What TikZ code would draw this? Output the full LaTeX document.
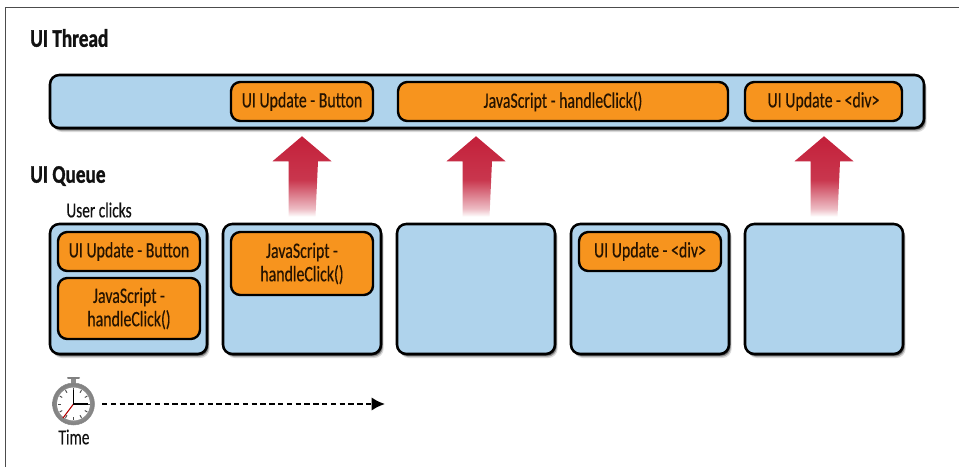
\documentclass[tikz,border=0pt]{standalone}
\usepackage{fontspec}
\setmainfont{Carlito}[FakeStretch=0.72,FakeBold=0.35,BoldFeatures={FakeStretch=0.76,FakeBold=1.2}]
\usetikzlibrary{shadows,calc,arrows.meta}
\definecolor{paneblue}{HTML}{AFD3EC}
\definecolor{taskorange}{HTML}{F7941E}
\definecolor{inkdark}{HTML}{111111}
\definecolor{arrowred}{HTML}{C3203A}
\pgfdeclareverticalshading{uparrowfade}{100bp}{color(0bp)=(white); color(25bp)=(white); color(30bp)=(arrowred!30!white); color(48bp)=(arrowred!90!white); color(75bp)=(arrowred); color(100bp)=(arrowred)}
\tikzset{
  x=0.75pt,y=-0.75pt,
  softshadow/.style={drop shadow={shadow xshift=2pt,shadow yshift=-3pt,fill=black,opacity=.15},drop shadow={shadow xshift=1.4pt,shadow yshift=-2pt,fill=black,opacity=.3},drop shadow={shadow xshift=.8pt,shadow yshift=-1.2pt,fill=black,opacity=.5}},
  pane/.style={draw=black,fill=paneblue,line width=1.9pt,rounded corners=7pt,softshadow,inner sep=0pt},
  task/.style={draw=black,fill=taskorange,line width=1.8pt,rounded corners=7pt,inner sep=0pt,align=center,font=\fontsize{16.5}{17.5}\selectfont,text=black!85!orange},
  heading/.style={anchor=west,inner sep=0pt,font=\fontsize{19}{20}\selectfont\bfseries,text=inkdark},
  note/.style={inner sep=0pt,font=\fontsize{16}{18}\selectfont,text=inkdark},
  flow/.style={shading=uparrowfade,draw=none},
  timeline/.style={line width=1.6pt,dash pattern=on 4pt off 2.6pt,-{Latex[length=10pt,width=10pt]},draw=black},
}
\newcommand{\boxat}[7]{\node[#6,minimum width={(#4-#2)*0.75pt},minimum height={(#5-#3)*0.75pt}] (#1) at ({(#2+#4)/2},{(#3+#5)/2}) {#7};}
\newcommand{\bigup}[2]{%
  \path[flow] let \p1=(#1.north), \p2=($(#1.north |- #2.south)+(0,7)$) in
    (\x2,\y2) -- ++(29.5,25) -- ++(-13.5,0) -- (\x1+10.1pt,\y1+4.5pt) -- (\x1-10.1pt,\y1+4.5pt) -- (\x1-10.1pt,\y2-18.75pt) -- ++(-16,0) -- cycle;}
\begin{document}
\begin{tikzpicture}
\useasboundingbox (0,0) rectangle (959,467);
\fill[white] (0,0) rectangle (959,467);
\draw[black!70,line width=0.9pt] (5.5,467) -- (5.5,7.5) -- (959,7.5);

\node[heading] (thr) at (30,38) {UI Thread};
\node[heading] (que) at (30,176) {UI Queue};
\node[note] (clk) at (99,210) {User clicks};

\boxat{thread}{50}{75}{924}{128}{pane}{}
\boxat{qa}{50}{224}{207}{354}{pane}{}
\boxat{qb}{223}{224}{381}{354}{pane}{}
\boxat{qc}{397}{224}{555}{354}{pane}{}
\boxat{qd}{571}{224}{729}{354}{pane}{}
\boxat{qe}{745}{224}{903}{354}{pane}{}

\boxat{ta}{231}{82}{373}{121}{task}{UI Update - Button}
\boxat{tb}{398}{82}{728}{121}{task}{JavaScript - handleClick()}
\boxat{tc}{745}{82}{902}{121}{task}{UI Update - <div>}

\boxat{a1}{58}{232}{200}{271}{task}{UI Update - Button}
\boxat{a2}{58}{278}{200}{339}{task}{JavaScript -\\handleClick()}
\boxat{b1}{231}{232}{373}{295}{task}{JavaScript -\\handleClick()}
\boxat{d1}{579}{232}{721}{271}{task}{UI Update - <div>}

\bigup{qb}{thread}
\bigup{qc}{thread}
\bigup{qe}{thread}

% stopwatch
\fill[black!45] (70.5,378) rectangle (76,386);
\draw[black!50,line width=1.5pt,line cap=round] (68,377.5) -- (79,377.5);
\node[circle,minimum size=31.5pt,inner sep=0pt,shade,inner color=black!25,outer color=black!50,draw=black!45] (watch) at (73.5,404) {};
\fill[white] (watch.center) circle (16.5);
\foreach \a in {0,30,...,330}
  \draw[black!70,line width=.7pt] ($(watch.center)+(\a:13)$) -- ($(watch.center)+(\a:16)$);
\draw[red!70!black,line width=.8pt] (watch.center) -- (63,418);
\draw[black,line width=1.3pt] (73.5,390) -- (watch.center) -- (88,404);
\coordinate (timeend) at (385,404);
\draw[timeline] (102,404) -- (timeend);
\node[note] (tm) at (74,437) {Time};
\end{tikzpicture}
\end{document}
